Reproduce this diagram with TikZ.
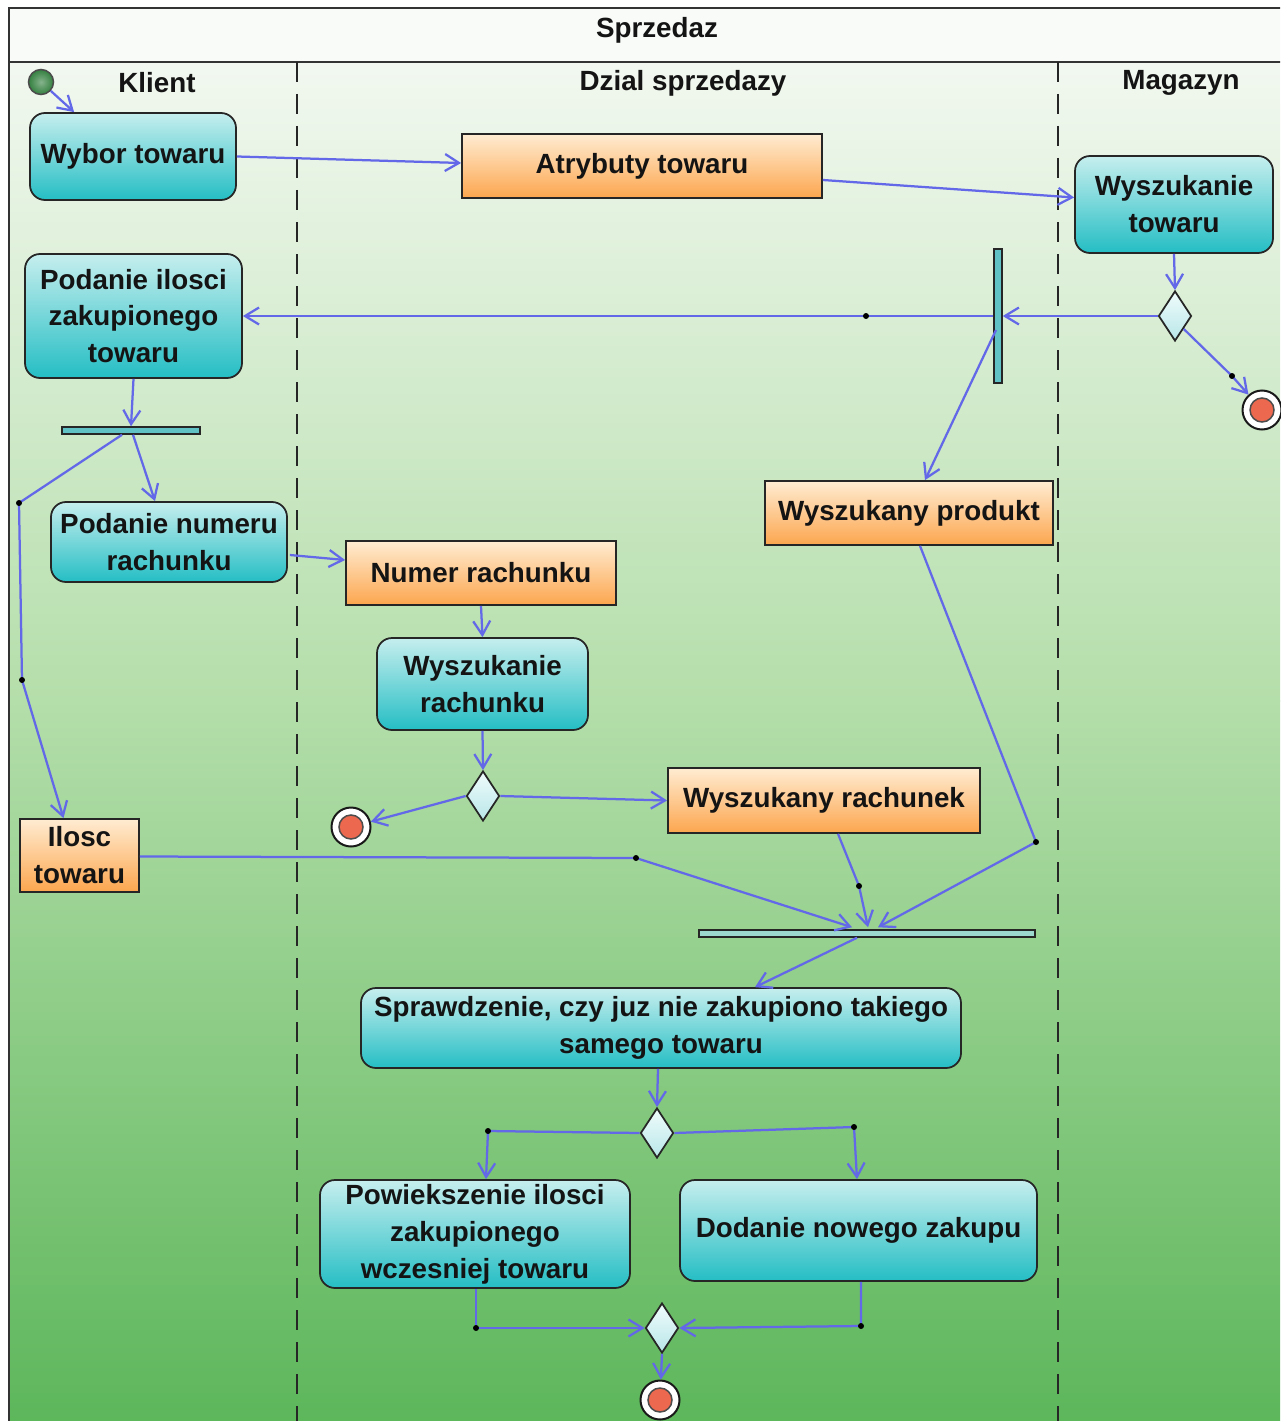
\documentclass[tikz,border=0pt]{standalone}
\usepackage{fontspec}
\setmainfont{Liberation Sans}
\usetikzlibrary{arrows.meta,shapes.geometric,calc}

\definecolor{flowblue}{RGB}{98,104,232}
\definecolor{actTop}{RGB}{198,238,238}
\definecolor{actBot}{RGB}{36,190,196}
\definecolor{objTop}{RGB}{255,236,210}
\definecolor{objBot}{RGB}{252,166,78}
\definecolor{decTop}{RGB}{240,252,252}
\definecolor{decBot}{RGB}{184,230,232}
\definecolor{barTeal}{RGB}{96,194,196}
\definecolor{barLight}{RGB}{156,216,206}
\definecolor{titlebg}{RGB}{248,251,248}
\definecolor{laneA}{RGB}{242,248,240}
\definecolor{laneB}{RGB}{180,222,170}
\definecolor{laneC}{RGB}{92,182,90}
\definecolor{startGreen}{RGB}{52,128,64}
\definecolor{finalRed}{RGB}{236,104,78}
\definecolor{inkDark}{RGB}{20,20,20}

\begin{document}
\begin{tikzpicture}[x=0.2mm,y=-0.2mm,
  font=\fontsize{15.8}{21}\selectfont\bfseries,
  frame/.style={draw=black!80,line width=0.4mm},
  lanesep/.style={draw=black!85,line width=0.4mm,dash pattern=on 4mm off 2.4mm},
  sized/.style 2 args={minimum width=#1,minimum height=#2},
  act/.style={draw=black!85,line width=0.35mm,rounded corners=3mm,
    top color=actTop,bottom color=actBot,inner sep=0pt,align=center,text=inkDark},
  obj/.style={draw=black!85,line width=0.35mm,
    top color=objTop,bottom color=objBot,inner sep=0pt,align=center,text=inkDark},
  decision/.style={diamond,draw=black!85,line width=0.35mm,
    top color=decTop,bottom color=decBot,inner sep=0pt,
    minimum width=6.6mm,minimum height=10mm},
  barnode/.style={draw=black!85,line width=0.3mm,fill=barTeal,inner sep=0pt},
  startnode/.style={circle,draw=black!70,line width=0.3mm,inner sep=0pt,
    minimum size=5mm,inner color=startGreen!60,outer color=startGreen},
  finalnode/.style={circle,draw=black!90,fill=white,line width=0.4mm,inner sep=0pt,
    minimum size=7.8mm,path picture={\draw[fill=finalRed,draw=black!70,line width=0.3mm]
      (path picture bounding box.center) circle (2.4mm);}},
  flow/.style={draw=flowblue,line width=0.45mm,
    -{Straight Barb[length=2.8mm,width=3.4mm]}},
  lanehead/.style={inner sep=0pt,text=inkDark}
]
\useasboundingbox (0,0) rectangle (1280,1421);

% ---- frame, title band and swimlane background ----
\begin{scope}
  \clip (0,0) rectangle (1280,1421);
  \fill[white] (0,0) rectangle (1280,1421);
  \fill[titlebg] (9,8) rectangle (1300,62);
  \shade[top color=laneA,bottom color=laneB] (9,62) rectangle (1300,701);
  \shade[top color=laneB,bottom color=laneC] (9,700) rectangle (1300,1430);
  \draw[frame] (9,1440) -- (9,8) -- (1300,8);
  \draw[frame] (9,62) -- (1300,62);
  \draw[lanesep] (297,62) -- (297,1430);
  \draw[lanesep] (1058,62) -- (1058,1430);
\end{scope}

\node[lanehead] (title) at (657,30) {Sprzedaz};
\node[lanehead] (hKlient) at (157,83) {Klient};
\node[lanehead] (hDzial) at (683,83) {Dzial sprzedazy};
\node[lanehead] (hMag) at (1181,83) {Magazyn};

% ---- nodes ----
\node[startnode] (init) at (41,82) {};
\node[act,sized={41.2mm}{17.4mm}] (wybor) at (133,156.5) {Wybor towaru};
\node[obj,sized={72mm}{12.8mm}] (atr) at (642,166) {Atrybuty towaru};
\node[act,sized={39.6mm}{19.4mm}] (wyszT) at (1174,204.5) {Wyszukanie\\towaru};
\node[barnode,sized={1.6mm}{26.8mm}] (forkA) at (998,316) {};
\node[decision] (dec1) at (1175,316) {};
\node[finalnode] (fin1) at (1262,410) {};
\node[act,sized={43.4mm}{24.8mm}] (ilosci) at (133.5,316) {Podanie ilosci\\zakupionego\\towaru};
\node[barnode,sized={27.6mm}{1.4mm}] (forkB) at (131,430.5) {};
\node[act,sized={47.2mm}{16mm}] (numeru) at (169,542) {Podanie numeru\\rachunku};
\node[obj,sized={57.6mm}{12.8mm}] (prod) at (909,513) {Wyszukany produkt};
\node[obj,sized={54mm}{12.8mm}] (nrR) at (481,573) {Numer rachunku};
\node[act,sized={42.2mm}{18.4mm}] (wyszR) at (482.5,684) {Wyszukanie\\rachunku};
\node[decision] (dec2) at (483,796) {};
\node[finalnode] (fin2) at (351,827) {};
\node[obj,sized={62.4mm}{13mm}] (rach) at (824,800.5) {Wyszukany rachunek};
\node[obj,sized={23.8mm}{14.6mm}] (iloscT) at (79.5,855.5) {Ilosc\\towaru};
\node[barnode,fill=barLight,sized={67.2mm}{1.4mm}] (join) at (867,933.5) {};
\node[act,sized={120mm}{16mm}] (spr) at (661,1028) {Sprawdzenie, czy juz nie zakupiono takiego\\samego towaru};
\node[decision] (dec3) at (657,1133) {};
\node[act,sized={62mm}{21.6mm}] (pow) at (475,1234) {Powiekszenie ilosci\\zakupionego\\wczesniej towaru};
\node[act,sized={71.4mm}{20.2mm}] (dod) at (858.5,1230.5) {Dodanie nowego zakupu};
\node[decision] (dec4) at (662,1328) {};
\node[finalnode] (fin3) at (660,1400) {};

% ---- bend points of the flows ----
\coordinate (d1) at (1232,376);
\coordinate (d2) at (866,316);
\coordinate (d3) at (19,503);
\coordinate (d4) at (22,680);
\coordinate (d5) at (636,858);
\coordinate (d6) at (859,886);
\coordinate (d7) at (1036,842);
\coordinate (d8) at (488,1131);
\coordinate (d9) at (854,1127);
\coordinate (d10) at (476,1328);
\coordinate (d11) at (861,1326);

% ---- control flows ----
\draw[flow] (init) -- ($(wybor.north west)+(45,0)$);
\draw[flow] (wybor.east) -- ($(atr.west)+(0,-3)$);
\draw[flow] ($(atr.east)+(0,14)$) -- ($(wyszT.west)+(0,-7)$);
\draw[flow] (wyszT.south) -- (dec1.north);
\draw[flow] (dec1.west) -- (forkA.east);
\draw[flow] (dec1.south east) -- (d1) -- (fin1);
\draw[flow] (forkA.west) -- (d2) -- (ilosci.east);
\draw[flow] ($(forkA.center)+(-2,14)$) -- ($(prod.north)+(16,0)$);
\draw[flow] (ilosci.south) -- (forkB.north);
\draw[flow] ($(forkB.south)+(2,0)$) -- ($(numeru.north)+(-14,0)$);
\draw[flow] ($(forkB.south)+(-9,0)$) -- (d3) -- (d4) -- ($(iloscT.north)+(-16,0)$);
\draw[flow] ($(numeru.east)+(2,13)$) -- ($(nrR.west)+(0,-13)$);
\draw[flow] (nrR.south) -- (wyszR.north);
\draw[flow] (wyszR.south) -- (dec2.north);
\draw[flow] (dec2.west) -- (fin2);
\draw[flow] (dec2.east) -- (rach.west);
\draw[flow] ($(iloscT.east)+(0,1)$) -- (d5) -- ($(join.north)+(-15,-2)$);
\draw[flow] ($(rach.south)+(14,0)$) -- (d6) -- ($(join.north)+(1,-2)$);
\draw[flow] ($(prod.south)+(11,0)$) -- (d7) -- ($(join.north)+(11,-2)$);
\draw[flow] ($(join.south)+(-10,0)$) -- ($(spr.north)+(94,0)$);
\draw[flow] ($(spr.south)+(-3,0)$) -- (dec3.north);
\draw[flow] (dec3.west) -- (d8) -- ($(pow.north)+(11,0)$);
\draw[flow] (dec3.east) -- (d9) -- ($(dod.north)+(-1.5,0)$);
\draw[flow] ($(pow.south)+(1,0)$) -- (d10) -- (dec4.west);
\draw[flow] ($(dod.south)+(2.5,0)$) -- (d11) -- (dec4.east);
\draw[flow] (dec4.south) -- (fin3);

% ---- bend dots ----
\foreach \k in {1,...,11} \fill[black] (d\k) circle (0.6mm);
\end{tikzpicture}
\end{document}
